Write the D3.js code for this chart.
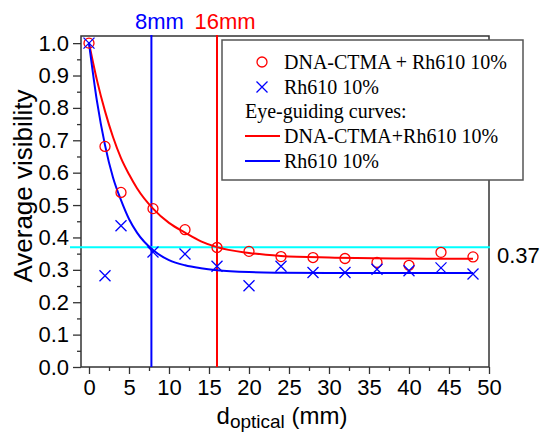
<!DOCTYPE html>
<html>
<head>
<meta charset="utf-8">
<script src="https://cdnjs.cloudflare.com/ajax/libs/d3/7.8.5/d3.min.js"></script>
<style>
  body { margin: 0; background: #fff; }
  .axis text { font-family: "Liberation Sans", Arial, sans-serif; fill: #000; }
  .axis line { stroke: #333; stroke-width: 1.3; }
</style>
</head>
<body>
<div class="chartDiv"></div>
<script>
// measured points
var distances = [0, 2, 4, 8, 12, 16, 20, 24, 28, 32, 36, 40, 44, 48];
var dnaValues = [1.0, 0.681, 0.539, 0.489, 0.424, 0.369, 0.357, 0.341, 0.338, 0.335, 0.323, 0.314, 0.354, 0.340];
var rhValues  = [1.0, 0.282, 0.436, 0.355, 0.349, 0.311, 0.251, 0.311, 0.292, 0.292, 0.302, 0.297, 0.306, 0.287];

// eye-guiding curves
var curveX   = [0, 1, 2, 3, 4, 5, 6, 8, 10, 12, 14, 16, 20, 24, 30, 40, 48];
var dnaCurve = [1.0, 0.885, 0.79, 0.71, 0.645, 0.595, 0.552, 0.489, 0.445, 0.415, 0.388, 0.370, 0.352, 0.343, 0.338, 0.335, 0.334];
var rhCurve  = [1.0, 0.82, 0.685, 0.585, 0.515, 0.457, 0.415, 0.361, 0.33, 0.314, 0.305, 0.299, 0.293, 0.291, 0.290, 0.290, 0.290];

// axes
var xTicks      = [0, 5, 10, 15, 20, 25, 30, 35, 40, 45, 50];
var xMinorTicks = [2.5, 7.5, 12.5, 17.5, 22.5, 27.5, 32.5, 37.5, 42.5, 47.5];
var yTicks      = [0, 0.1, 0.2, 0.3, 0.4, 0.5, 0.6, 0.7, 0.8, 0.9, 1.0];
var yMinorTicks = [0.05, 0.15, 0.25, 0.35, 0.45, 0.55, 0.65, 0.75, 0.85, 0.95];

// marker lines
var markPositions = [7.8, 16];
var markLabels    = ["8mm", "16mm"];
var markColors    = ["#0000ff", "#ff0000"];
var thresholdValue = 0.37;
var thresholdLabel = "0.37";

var legendLabels = ["DNA-CTMA + Rh610 10%", "Rh610 10%", "Eye-guiding curves:", "DNA-CTMA+Rh610 10%", "Rh610 10%"];

(function(){
  var width  = 540,
      height = 432,
      plot   = {left: 81, right: 489, top: 36, bottom: 367},
      red    = "#ff0000",
      blue   = "#0000ff";

  var svg = d3.select(".chartDiv")
              .append("svg")
              .attr("width", width)
              .attr("height", height);

  var x = d3.scaleLinear().domain([-1, 50]).range([plot.left, plot.right]);
  var y = d3.scaleLinear().domain([0, 1.022]).range([plot.bottom, plot.top]);

  //ticks, outward
  var xAxis = svg.append("g").attr("class", "axis")
     .attr("transform", "translate(0," + plot.bottom + ")")
     .call(d3.axisBottom(x).tickValues(xTicks).tickSize(7).tickPadding(5).tickFormat(d3.format("d")));
  xAxis.selectAll("text").style("font-size", "22px");
  svg.append("g").attr("class", "axis")
     .attr("transform", "translate(0," + plot.bottom + ")")
     .call(d3.axisBottom(x).tickValues(xMinorTicks).tickSize(4).tickFormat(""));

  var yAxis = svg.append("g").attr("class", "axis")
     .attr("transform", "translate(" + plot.left + ",0)")
     .call(d3.axisLeft(y).tickValues(yTicks).tickSize(8).tickPadding(4).tickFormat(d3.format(".1f")));
  yAxis.selectAll("text").style("font-size", "22px");
  svg.append("g").attr("class", "axis")
     .attr("transform", "translate(" + plot.left + ",0)")
     .call(d3.axisLeft(y).tickValues(yMinorTicks).tickSize(4).tickFormat(""));
  svg.selectAll(".axis .domain").remove();

  //frame
  svg.append("rect").attr("x", plot.left).attr("y", plot.top)
     .attr("width", plot.right - plot.left).attr("height", plot.bottom - plot.top)
     .attr("fill", "none").attr("stroke", "#333").attr("stroke-width", 1.5);

  //vertical marker lines
  markPositions.forEach(function(d, i){
    svg.append("line").attr("x1", x(d)).attr("x2", x(d))
       .attr("y1", plot.top - 1).attr("y2", plot.bottom)
       .attr("stroke", markColors[i]).attr("stroke-width", 2);
    svg.append("text").attr("x", x(d) + 8).attr("y", 29)
       .attr("text-anchor", "middle")
       .style("font-family", "Liberation Sans, Arial, sans-serif").style("font-size", "22px")
       .attr("fill", markColors[i]).text(markLabels[i]);
  });

  //threshold line
  svg.append("line").attr("x1", 70).attr("x2", plot.right + 1)
     .attr("y1", y(thresholdValue)).attr("y2", y(thresholdValue))
     .attr("stroke", "#00ffff").attr("stroke-width", 2);
  svg.append("text").attr("x", 497).attr("y", y(thresholdValue) + 16)
     .style("font-family", "Liberation Sans, Arial, sans-serif").style("font-size", "22px")
     .text(thresholdLabel);

  //curves
  var line = d3.line().x(function(d){ return x(d[0]); }).y(function(d){ return y(d[1]); })
               .curve(d3.curveMonotoneX);
  svg.append("path").attr("d", line(d3.zip(curveX, dnaCurve)))
     .attr("fill", "none").attr("stroke", red).attr("stroke-width", 2);
  svg.append("path").attr("d", line(d3.zip(curveX, rhCurve)))
     .attr("fill", "none").attr("stroke", blue).attr("stroke-width", 2);

  //points
  var cross = function(g, cx, cy, s){
    g.append("path").attr("d", "M" + (cx - s) + "," + (cy - s) + "L" + (cx + s) + "," + (cy + s) +
                               "M" + (cx - s) + "," + (cy + s) + "L" + (cx + s) + "," + (cy - s))
     .attr("stroke", blue).attr("stroke-width", 1.3).attr("fill", "none");
  };
  svg.selectAll("circle.dna").data(d3.zip(distances, dnaValues)).enter()
     .append("circle").attr("class", "dna")
     .attr("cx", function(d){ return x(d[0]); }).attr("cy", function(d){ return y(d[1]); })
     .attr("r", 5).attr("fill", "none").attr("stroke", red).attr("stroke-width", 1.3);
  var crosses = svg.append("g");
  d3.zip(distances, rhValues).forEach(function(d){ cross(crosses, x(d[0]), y(d[1]), 5.5); });

  //legend
  var legend = svg.append("g");
  legend.append("rect").attr("x", 222).attr("y", 40).attr("width", 301).attr("height", 140)
        .attr("fill", "#fff").attr("stroke", "#555").attr("stroke-width", 1.5);
  var baselines = [69, 94, 118, 143, 168];
  legendLabels.forEach(function(d, i){
    legend.append("text").attr("x", i === 2 ? 245 : 284).attr("y", baselines[i])
          .style("font-family", "Liberation Serif, Times New Roman, serif").style("font-size", "20px")
          .text(d);
  });
  legend.append("circle").attr("cx", 262).attr("cy", baselines[0] - 7).attr("r", 5)
        .attr("fill", "none").attr("stroke", red).attr("stroke-width", 1.3);
  cross(legend, 262, baselines[1] - 7, 5.5);
  legend.append("line").attr("x1", 245).attr("x2", 280).attr("y1", baselines[3] - 7).attr("y2", baselines[3] - 7)
        .attr("stroke", red).attr("stroke-width", 2);
  legend.append("line").attr("x1", 245).attr("x2", 280).attr("y1", baselines[4] - 7).attr("y2", baselines[4] - 7)
        .attr("stroke", blue).attr("stroke-width", 2);

  //titles
  svg.append("text").attr("transform", "translate(32,186) rotate(-90)")
     .attr("text-anchor", "middle")
     .style("font-family", "Liberation Sans, Arial, sans-serif").style("font-size", "26px")
     .text("Average visibility");
  var xt = svg.append("text").attr("x", 282).attr("y", 424).attr("text-anchor", "middle")
     .style("font-family", "Liberation Sans, Arial, sans-serif").style("font-size", "24px");
  xt.append("tspan").text("d");
  xt.append("tspan").attr("dy", 4).style("font-size", "19px").text("optical");
  xt.append("tspan").attr("dy", -4).text(" (mm)");
})()
</script>
</body>
</html>
